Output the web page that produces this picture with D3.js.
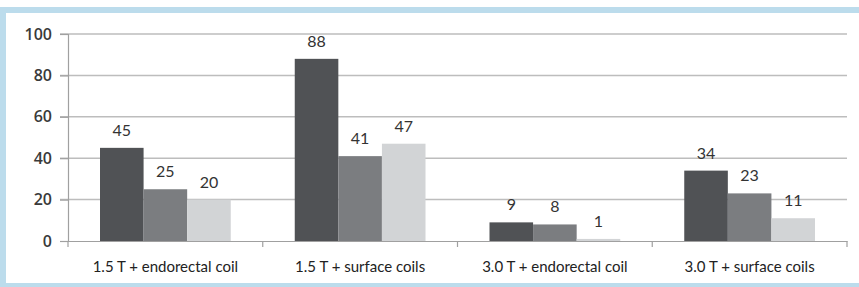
<!DOCTYPE html>
<html>
<head>
<meta charset="utf-8">
<script src="https://d3js.org/d3.v7.min.js"></script>
<style>
body { margin: 0; background: #fff; }
svg { display: block; }
text { font-family: Lato, "Open Sans", sans-serif; }
</style>
</head>
<body>
<svg width="859" height="287"></svg>
<script>
// chart data
var categories = ["1.5 T + endorectal coil", "1.5 T + surface coils", "3.0 T + endorectal coil", "3.0 T + surface coils"];
var seriesA = [45, 88, 9, 34];
var seriesB = [25, 41, 8, 23];
var seriesC = [20, 47, 1, 11];
var yTicks = [0, 20, 40, 60, 80, 100];
var seriesColors = ["#505255", "#7b7d80", "#d2d4d6"];

var svg = d3.select("svg");

// light blue frame
svg.append("rect").attr("x", 0).attr("y", 7).attr("width", 859).attr("height", 280).attr("fill", "#bcdcec");
svg.append("rect").attr("x", 6).attr("y", 13).attr("width", 853).attr("height", 270).attr("fill", "#fff");

var margin = {top: 34, left: 68, right: 12, bottom: 46},
    width = 847 - margin.left,
    height = 241 - margin.top;

var g = svg.append("g").attr("transform", "translate(" + margin.left + "," + margin.top + ")");

var x = d3.scaleBand().domain(categories).range([0, width]);
var y = d3.scaleLinear().domain([0, 100]).range([height, 0]);

var rows = categories.map(function(c, i) {
  return {cat: c, values: [seriesA[i], seriesB[i], seriesC[i]]};
});

var x1 = d3.scaleBand().domain([0, 1, 2]).range([32, x.bandwidth() - 32]);

// gridlines
g.append("g").selectAll("line").data(yTicks.filter(function(d) { return d > 0; })).enter().append("line")
    .attr("x1", -8).attr("x2", width)
    .attr("y1", function(d) { return y(d); }).attr("y2", function(d) { return y(d); })
    .attr("stroke", "#bdbdbd").attr("stroke-width", 1.5);

// y axis
var yAxis = g.append("g").call(d3.axisLeft(y).tickValues(yTicks).tickSize(8).tickPadding(8));
yAxis.select(".domain").attr("stroke", "#a0a0a0").attr("stroke-width", 1.2);
yAxis.selectAll(".tick line").attr("stroke", "#a0a0a0").attr("stroke-width", 1.2);
yAxis.selectAll("text").attr("fill", "#3a3a3a").style("font-size", "16px").style("font-weight", "600")
    .style("font-family", "'Open Sans', sans-serif");

// bars
var grp = g.selectAll(".cat").data(rows).enter().append("g")
    .attr("transform", function(d) { return "translate(" + x(d.cat) + ",0)"; });

grp.selectAll("rect").data(function(d) { return d.values; }).enter().append("rect")
    .attr("x", function(d, i) { return x1(i); })
    .attr("width", x1.bandwidth())
    .attr("y", function(d) { return y(d); })
    .attr("height", function(d) { return height - y(d); })
    .attr("fill", function(d, i) { return seriesColors[i]; });

grp.selectAll("text.val").data(function(d) { return d.values; }).enter().append("text")
    .attr("class", "val")
    .attr("x", function(d, i) { return x1(i) + x1.bandwidth() / 2; })
    .attr("y", function(d) { return y(d) - 12; })
    .attr("text-anchor", "middle")
    .attr("fill", "#333")
    .style("font-size", "16px")
    .text(function(d) { return d; });

// x axis
var xAxis = g.append("g").attr("transform", "translate(0," + height + ")")
    .call(d3.axisBottom(x).tickSize(0).tickPadding(20));
xAxis.select(".domain").attr("stroke", "#a0a0a0").attr("stroke-width", 1.2);
xAxis.selectAll("text").attr("fill", "#222").style("font-size", "15px");

// category separators
g.append("g").selectAll("line").data(d3.range(categories.length + 1)).enter().append("line")
    .attr("x1", function(i) { return i * x.step(); })
    .attr("x2", function(i) { return i * x.step(); })
    .attr("y1", height).attr("y2", height + 6)
    .attr("stroke", "#a0a0a0").attr("stroke-width", 1.2);
</script>
</body>
</html>
